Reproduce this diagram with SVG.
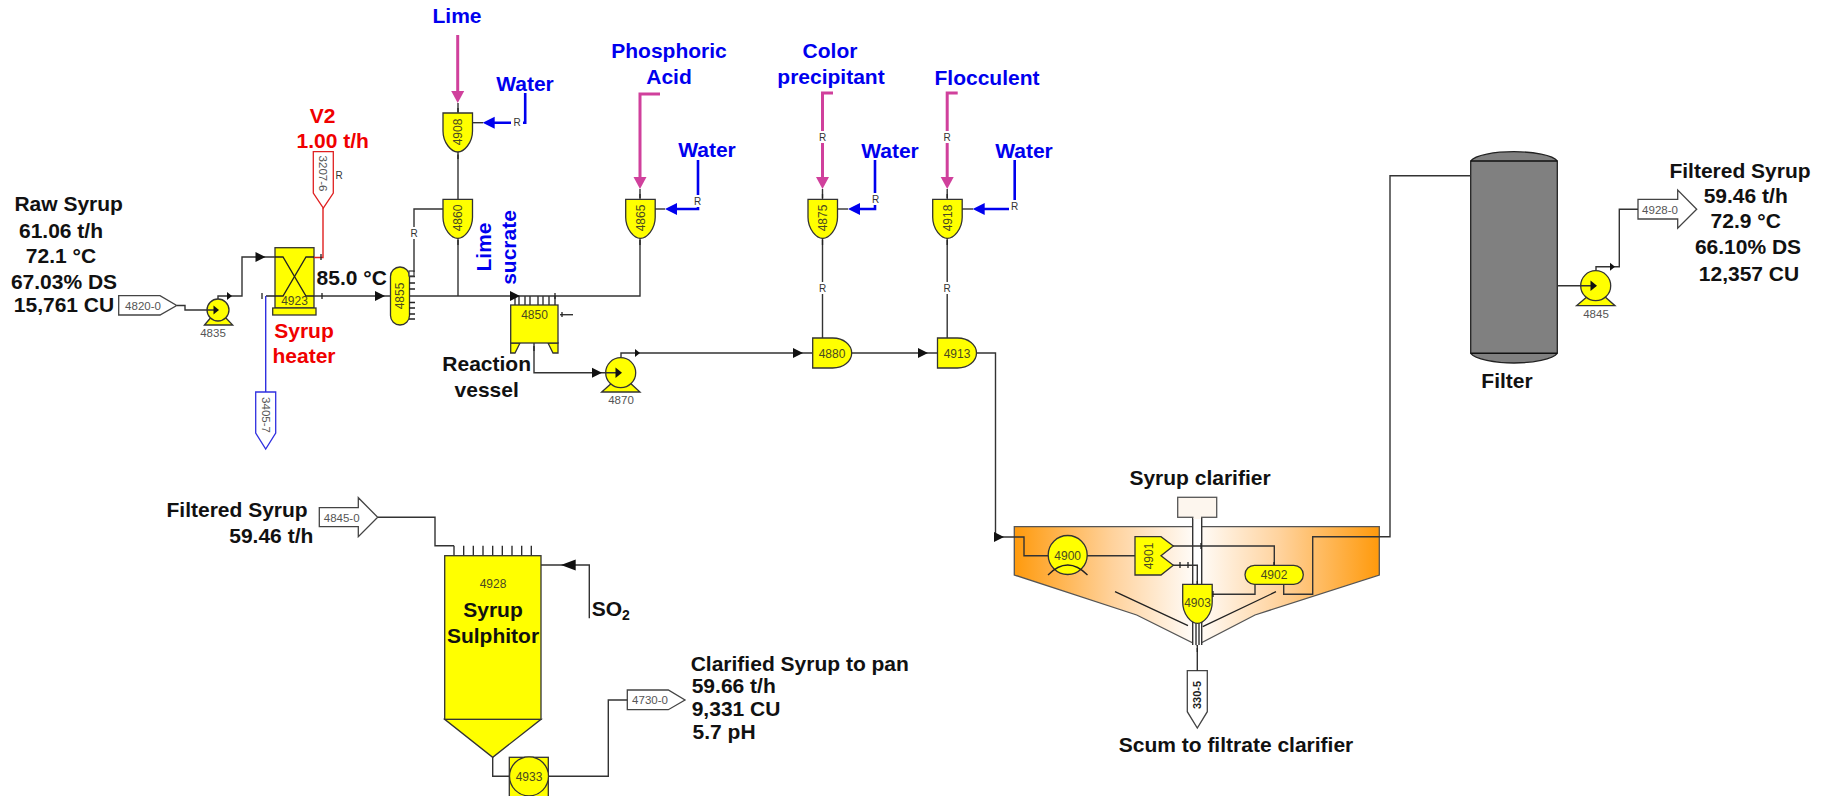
<svg xmlns="http://www.w3.org/2000/svg" xmlns:xlink="http://www.w3.org/1999/xlink" width="1826" height="796" viewBox="0 0 1826 796">
<style>
text{font-family:"Liberation Sans",Arial,sans-serif}
.b{font-weight:700;font-size:21px;fill:#111;text-anchor:middle}
.bl{font-weight:700;font-size:21px;fill:#0000ee;text-anchor:middle}
.br{font-weight:700;font-size:21px;fill:#f00000;text-anchor:middle}
.l{font-size:12px;fill:#4a4a20;text-anchor:middle}
.g{font-size:11.5px;fill:#555;text-anchor:middle}
.r{font-size:10px;fill:#333;text-anchor:middle}
.y{fill:#ffff00;stroke:#333;stroke-width:1.3}
.w{fill:#fff;stroke:#444;stroke-width:1.3}
.c{fill:none;stroke:#333;stroke-width:1.4}
.blk{fill:none;stroke:#222;stroke-width:1.3}
.pk{fill:none;stroke:#d0409c;stroke-width:3}
.bu{fill:none;stroke:#0000ee;stroke-width:2.6}
.ah{fill:#111}
</style>
<defs>
<linearGradient id="og" gradientUnits="userSpaceOnUse" x1="1014" y1="0" x2="1379" y2="0">
<stop offset="0" stop-color="#ff9a0c"/><stop offset=".27" stop-color="#ffd29c"/><stop offset=".5" stop-color="#fffdfb"/><stop offset=".73" stop-color="#ffd29c"/><stop offset="1" stop-color="#ff9a0c"/>
</linearGradient>
<path id="shield" d="M0 0H29.500V18C29.500 30 21 39 14.700 39C8.500 39 0 30 0 18Z"/>
<path id="dee" d="M0 0H20C31 0 39 7 39 15C39 23 31 30 20 30H0Z"/>
<path id="ar" d="M0 0L-10 -5L-10 5Z"/>
<path id="sm" d="M0 0L-5 -4L-5 4Z"/>
<path id="pa" d="M0 0L-6.500 -12L6.500 -12Z"/>
<path id="ba" d="M0 0L12 -6L12 6Z"/>
</defs>

<g id="tag-4820-0"><path class="w" d="M118.700 295.700H160L176.700 305.500L160 315H118.700Z"/><text class="g" x="143" y="309.500">4820-0</text></g>
<g id="pump-4835"><path class="y" d="M204.500 325L213 315H223L232.700 325Z"/><circle class="y" cx="218" cy="310" r="11"/><text class="g" x="213" y="337" font-size="10">4835</text></g>
<g id="heater-4923"><rect class="y" x="275" y="247.700" width="39" height="60.300"/><rect class="y" x="272.700" y="308" width="43.300" height="7"/><text class="l" x="294.500" y="304.500">4923</text></g>
<g id="tag-3207-6"><path fill="#fff" stroke="#e02020" stroke-width="1.300" d="M313.300 151.700H333.300V193L323.300 208L313.300 193Z"/><text class="g" transform="translate(319 173.500) rotate(90)">3207-6</text></g>
<g id="tag-3405-7"><path fill="#fff" stroke="#3030e0" stroke-width="1.300" d="M255.700 392H275.700V433L265.700 449L255.700 433Z"/><text class="g" transform="translate(261.500 415) rotate(90)">3405-7</text></g>
<g id="tank-4855"><rect class="y" x="390.500" y="267" width="19" height="58" rx="9.500"/>
<path class="blk" d="M409 276.500H415M409 283H415M409 289H415M409 302.500H415M409 308H415M409 314H415M409 319H415"/><rect class="w" x="409" y="271" width="5" height="5"/><text class="l" transform="translate(404 296) rotate(-90)">4855</text></g>
<g id="tank-4908"><use xlink:href="#shield" href="#shield" class="y" x="443" y="113"/><text class="l" transform="translate(462 132) rotate(-90)">4908</text></g>
<g id="tank-4860"><use xlink:href="#shield" href="#shield" class="y" x="443" y="199.300"/><text class="l" transform="translate(462 218) rotate(-90)">4860</text></g>
<g id="tank-4865"><use xlink:href="#shield" href="#shield" class="y" x="625.700" y="199.300"/><text class="l" transform="translate(644.500 218) rotate(-90)">4865</text></g>
<g id="tank-4875"><use xlink:href="#shield" href="#shield" class="y" x="808" y="199.300"/><text class="l" transform="translate(827 218) rotate(-90)">4875</text></g>
<g id="tank-4918"><use xlink:href="#shield" href="#shield" class="y" x="932.700" y="199.300"/><text class="l" transform="translate(951.500 218) rotate(-90)">4918</text></g>
<g id="vessel-4850"><path class="blk" d="M515 305V296M519 305V296M525 305V296M530 305V296M538 305V296M543 305V296M549 305V296M555 305V296"/><path class="y" d="M510.700 343H520L515 353H510.700ZM548 343H558V353H553Z"/><rect class="y" x="510.700" y="305" width="47.300" height="38"/><text class="l" x="534.500" y="319" font-size="12.500">4850</text></g>
<g id="pump-4870"><path class="y" d="M601.700 392L613 382H629L640 392Z"/><circle class="y" cx="620.700" cy="372.700" r="15"/><text class="g" x="621" y="404">4870</text></g>
<g id="tank-4880"><use xlink:href="#dee" href="#dee" class="y" x="812.700" y="338"/><text class="l" x="832" y="357.500">4880</text></g>
<g id="tank-4913"><use xlink:href="#dee" href="#dee" class="y" x="937.500" y="338"/><text class="l" x="957" y="357.500">4913</text></g>

<g id="clarifier">
<path fill="url(#og)" stroke="#555" stroke-width="1.300" d="M1014.300 526.700H1379.300V575L1255 615L1197 645L1136.700 615L1014.300 575Z"/>
<path class="blk" d="M1115 591.700L1188 625.700M1276 591.700L1202.700 626.700"/>
<rect x="1193" y="516" width="9" height="129" fill="#fff" stroke="none"/>
<path class="c" d="M1192.700 517V645M1201.700 517V645M1196 623V645M1199 623V645"/>
<rect x="1177.700" y="497.300" width="39" height="20" fill="#fdf6ee" stroke="#555" stroke-width="1.300"/>
<rect x="1193.500" y="516" width="7.500" height="3" fill="#fdf6ee"/>
</g>
<g id="tank-4900"><circle class="y" cx="1067.700" cy="555" r="19.500"/><path class="blk" d="M1048 575Q1067.700 555 1087.500 575"/><text class="l" x="1067.700" y="559.500">4900</text></g>
<g id="splitter-4901"><path class="y" d="M1135 536.700H1161L1173.300 546L1161 555.700L1173.300 565.300L1161 575H1135Z"/><text class="l" transform="translate(1152.500 556) rotate(-90)">4901</text></g>
<g id="tank-4902"><rect class="y" x="1245" y="565.300" width="58.300" height="19" rx="9.500"/><text class="l" x="1274" y="578.500">4902</text></g>
<g id="tank-4903"><use xlink:href="#shield" href="#shield" class="y" x="1182.700" y="584.300"/><text class="l" x="1197.500" y="607" font-size="13">4903</text></g>
<g id="tag-330-5"><path class="w" d="M1187.300 670.700H1207.300V711.700L1197.300 728L1187.300 711.700Z"/><text transform="translate(1201 695) rotate(-90)" font-size="11" font-weight="700" fill="#222" text-anchor="middle">330-5</text></g>

<g id="filter"><path fill="#808080" stroke="#222" stroke-width="1.300" d="M1470.700 161C1475 155 1495 151.700 1514 151.700C1533 151.700 1553 155 1557.300 161V353.300C1553 359 1533 363 1514 363C1495 363 1475 359 1470.700 353.300Z"/><path fill="none" stroke="#111" stroke-width="1.500" d="M1470.700 161H1557.300M1470.700 353.300H1557.300"/></g>
<g id="pump-4845"><path class="y" d="M1576.500 305.700L1588 296H1604L1615 305.700Z"/><circle class="y" cx="1595.700" cy="285.700" r="15"/><text class="g" x="1596" y="318">4845</text></g>
<g id="tag-4928-0"><path class="w" d="M1638 199.300H1677.700V190L1696.700 209.300L1677.700 228.300V219H1638Z"/><text class="g" x="1660" y="213.500">4928-0</text></g>
<g id="tag-4845-0"><path class="w" d="M319.300 507.700H358.300V497.700L377.700 517.300L358.300 536.700V526.700H319.300Z"/><text class="g" x="341.700" y="521.500">4845-0</text></g>
<g id="sulphitor-4928"><path class="blk" d="M454 555.700V545.700M463.700 555.700V545.700M473.300 555.700V545.700M483 555.700V545.700M492.700 555.700V545.700M502.300 555.700V545.700M512 555.700V545.700M521.700 555.700V545.700M531.300 555.700V545.700"/>
<path class="y" d="M444.700 719.300H541L492.700 757.300Z"/><rect class="y" x="444.700" y="555.700" width="96.300" height="163.600"/><text class="l" x="493" y="588">4928</text>
<text class="b" x="493" y="617">Syrup</text><text class="b" x="493" y="642.700">Sulphitor</text></g>
<g id="pump-4933"><rect class="y" x="509.300" y="757.300" width="39" height="45"/><circle class="y" cx="529" cy="776.300" r="19.500"/><text class="l" x="529" y="780.500">4933</text></g>
<g id="tag-4730-0"><path class="w" d="M627.300 690H668.300L685 700L668.300 709.700H627.300Z"/><text class="g" x="650" y="704">4730-0</text></g>

<g id="connectors">
<path class="c" d="M177 305.500H185V310H218"/>
<path class="c" d="M218 299V296H242V257H275"/>
<path class="blk" d="M275 257H283L306 296H314"/>
<path class="blk" d="M314 257H306L283 296H266"/>
<path class="c" d="M314 296H390"/>
<path class="c" d="M409 296H555"/>
<path fill="none" stroke="#e02020" stroke-width="1.400" d="M323 208V257.500H314"/>
<path fill="none" stroke="#3030e0" stroke-width="1.400" d="M265.700 296V392"/>
<path class="c" d="M414 272V209H443"/>
<path class="c" d="M458 152V199"/>
<path class="c" d="M458 238V296"/>
<path class="c" d="M458 103V113"/>
<path class="c" d="M472 122.700H483"/>
<path class="pk" d="M457.700 35V92"/>
<path class="bu" d="M525.200 93V122.700H494"/>
<path class="pk" d="M660 94H640V178"/>
<path class="c" d="M640 189V199"/>
<path class="c" d="M655 209H665"/>
<path class="bu" d="M698 160V209H676"/>
<path class="c" d="M640 238V296H555"/>
<path class="c" d="M534 343V372.700H620"/>
<path class="c" d="M560 314.700H573"/>
<path class="c" d="M621 357V353H812"/>
<path class="pk" d="M833 93H822.500V178"/>
<path class="c" d="M822.500 189V199"/>
<path class="c" d="M837 209H848"/>
<path class="bu" d="M875 160V209H859"/>
<path class="c" d="M822.500 238V338"/>
<path class="c" d="M852 353H937"/>
<path class="pk" d="M957.700 93H947.200V178"/>
<path class="c" d="M947.200 189V199"/>
<path class="c" d="M962 209H973"/>
<path class="bu" d="M1014.700 160V209H984"/>
<path class="c" d="M947.200 238V338"/>
<path class="c" d="M977 353H995.500V537H1024V555.700H1048"/>
<path class="c" d="M1087 555.700H1135"/>
<path class="c" d="M1173 546H1274.300V565.300"/>
<path class="c" d="M1173 565.300H1197.300V584"/>
<path class="c" d="M1255 584V594.300H1212"/>
<path class="c" d="M1283.700 584V594.300H1312.700V536.700H1390V175.700H1470.700"/>
<path class="c" d="M1197.300 645V671"/>
<path class="c" d="M1557 285.700H1596"/>
<path class="c" d="M1596 270V266.700H1619.300V209.300H1638"/>
<path class="c" d="M378 517.300H435V545.700H454"/>
<path class="c" d="M541 565H589.300V618.300"/>
<path class="c" d="M492.700 757V776.300H509"/>
<path class="c" d="M548 776.300H608.300V700H627.300"/>
<use xlink:href="#ar" href="#ar" class="ah" transform="translate(265.500 257)"/>
<use xlink:href="#sm" href="#sm" class="ah" transform="translate(232 296)"/>
<use xlink:href="#sm" href="#sm" class="ah" transform="translate(219 310) scale(1.100)"/>
<use xlink:href="#ar" href="#ar" class="ah" transform="translate(385 296)"/>
<use xlink:href="#ar" href="#ar" class="ah" transform="translate(520 296)"/>
<use xlink:href="#ar" href="#ar" class="ah" transform="translate(602 372.700)"/>
<use xlink:href="#sm" href="#sm" class="ah" transform="translate(622 372.700) scale(1.300)"/>
<use xlink:href="#sm" href="#sm" class="ah" transform="translate(640 353)"/>
<use xlink:href="#ar" href="#ar" class="ah" transform="translate(803 353)"/>
<use xlink:href="#ar" href="#ar" class="ah" transform="translate(928 353)"/>
<use xlink:href="#ar" href="#ar" class="ah" transform="translate(1004 537)"/>
<use xlink:href="#sm" href="#sm" class="ah" transform="translate(1597 285.700) scale(1.300)"/>
<use xlink:href="#sm" href="#sm" class="ah" transform="translate(1615 266.700)"/>
<path fill="#111" d="M561 565L575.700 559.500V570.500Z"/>
<use xlink:href="#pa" href="#pa" transform="translate(457.700 103)" fill="#d0409c"/>
<use xlink:href="#pa" href="#pa" transform="translate(640 189)" fill="#d0409c"/>
<use xlink:href="#pa" href="#pa" transform="translate(822.500 189)" fill="#d0409c"/>
<use xlink:href="#pa" href="#pa" transform="translate(947.200 189)" fill="#d0409c"/>
<use xlink:href="#ba" href="#ba" transform="translate(482.700 122.700)" fill="#0000ee"/>
<use xlink:href="#ba" href="#ba" transform="translate(665 209)" fill="#0000ee"/>
<use xlink:href="#ba" href="#ba" transform="translate(848 209)" fill="#0000ee"/>
<use xlink:href="#ba" href="#ba" transform="translate(972.700 209)" fill="#0000ee"/>
<path class="blk" stroke-width="2" d="M458 154.500V159M458 240V245M640 240V245M822.500 240V245M947.200 240V245M534 346V351M321 254V260M262 293V299M322 293V299M1274 562V565M1197.300 581V584M1197.300 648V652M1201 543V549M1180 562V568M1188 562V568M550 766M562 312V317M555 293V299M1213 591V597M458 108V112M640 194V198M822.500 194V198M947.200 194V198"/>
<g fill="#fff" stroke="none">
<rect x="409" y="227" width="10" height="12"/><rect x="511" y="116" width="12" height="12"/><rect x="692" y="195" width="12" height="12"/>
<rect x="817" y="131" width="11" height="12"/><rect x="942" y="131" width="11" height="12"/><rect x="869" y="193" width="12" height="12"/><rect x="1009" y="200" width="11" height="12"/><rect x="817" y="282" width="11" height="12"/><rect x="942" y="282" width="11" height="12"/>
</g>
<text class="r" x="414" y="237">R</text><text class="r" x="517" y="126">R</text><text class="r" x="697.500" y="205">R</text>
<text class="r" x="822.500" y="140.500">R</text><text class="r" x="947" y="140.500">R</text><text class="r" x="875.500" y="203">R</text><text class="r" x="1014.500" y="210">R</text><text class="r" x="822.500" y="291.500">R</text><text class="r" x="947" y="291.500">R</text><text class="r" x="339" y="178.500">R</text>
</g>

<g id="labels">
<text class="b" x="68.700" y="210.700">Raw Syrup</text>
<text class="b" x="61" y="237.700">61.06 t/h</text>
<text class="b" x="61" y="263">72.1 °C</text>
<text class="b" x="64" y="289">67.03% DS</text>
<text class="b" x="64" y="312">15,761 CU</text>
<text class="br" x="322.700" y="123">V2</text>
<text class="br" x="332.700" y="148">1.00 t/h</text>
<text class="br" x="304" y="338">Syrup</text>
<text class="br" x="304" y="363">heater</text>
<text class="b" x="351.700" y="285">85.0 °C</text>
<text class="bl" x="457" y="23">Lime</text>
<text class="bl" x="525" y="91">Water</text>
<text class="bl" x="669" y="58">Phosphoric</text>
<text class="bl" x="669" y="84">Acid</text>
<text class="bl" x="707" y="157">Water</text>
<text class="bl" x="830" y="58">Color</text>
<text class="bl" x="831" y="84">precipitant</text>
<text class="bl" x="890" y="157.700">Water</text>
<text class="bl" x="987" y="85">Flocculent</text>
<text class="bl" x="1024" y="157.700">Water</text>
<text class="bl" transform="translate(490.700 247) rotate(-90)">Lime</text>
<text class="bl" transform="translate(516 247.500) rotate(-90)">sucrate</text>
<text class="b" x="486.700" y="370.700">Reaction</text>
<text class="b" x="486.700" y="396.700">vessel</text>
<text class="b" x="1200" y="485">Syrup clarifier</text>
<text class="b" x="1236" y="751.700">Scum to filtrate clarifier</text>
<text class="b" x="1507" y="388">Filter</text>
<text class="b" x="1740" y="177.700">Filtered Syrup</text>
<text class="b" x="1745.700" y="202.700">59.46 t/h</text>
<text class="b" x="1745.700" y="227.700">72.9 °C</text>
<text class="b" x="1748" y="254">66.10% DS</text>
<text class="b" x="1749" y="280.700">12,357 CU</text>
<text class="b" x="307.700" y="517.300" style="text-anchor:end">Filtered Syrup</text>
<text class="b" x="313.300" y="543.300" style="text-anchor:end">59.46 t/h</text>
<text class="b" x="591.700" y="615.700" style="text-anchor:start">SO<tspan font-size="14" dy="4">2</tspan></text>
<text class="b" x="690.700" y="670.700" style="text-anchor:start">Clarified Syrup to pan</text>
<text class="b" x="691.700" y="693.300" style="text-anchor:start">59.66 t/h</text>
<text class="b" x="691.700" y="716" style="text-anchor:start">9,331 CU</text>
<text class="b" x="692.600" y="739.300" style="text-anchor:start">5.7 pH</text>
</g>
</svg>
